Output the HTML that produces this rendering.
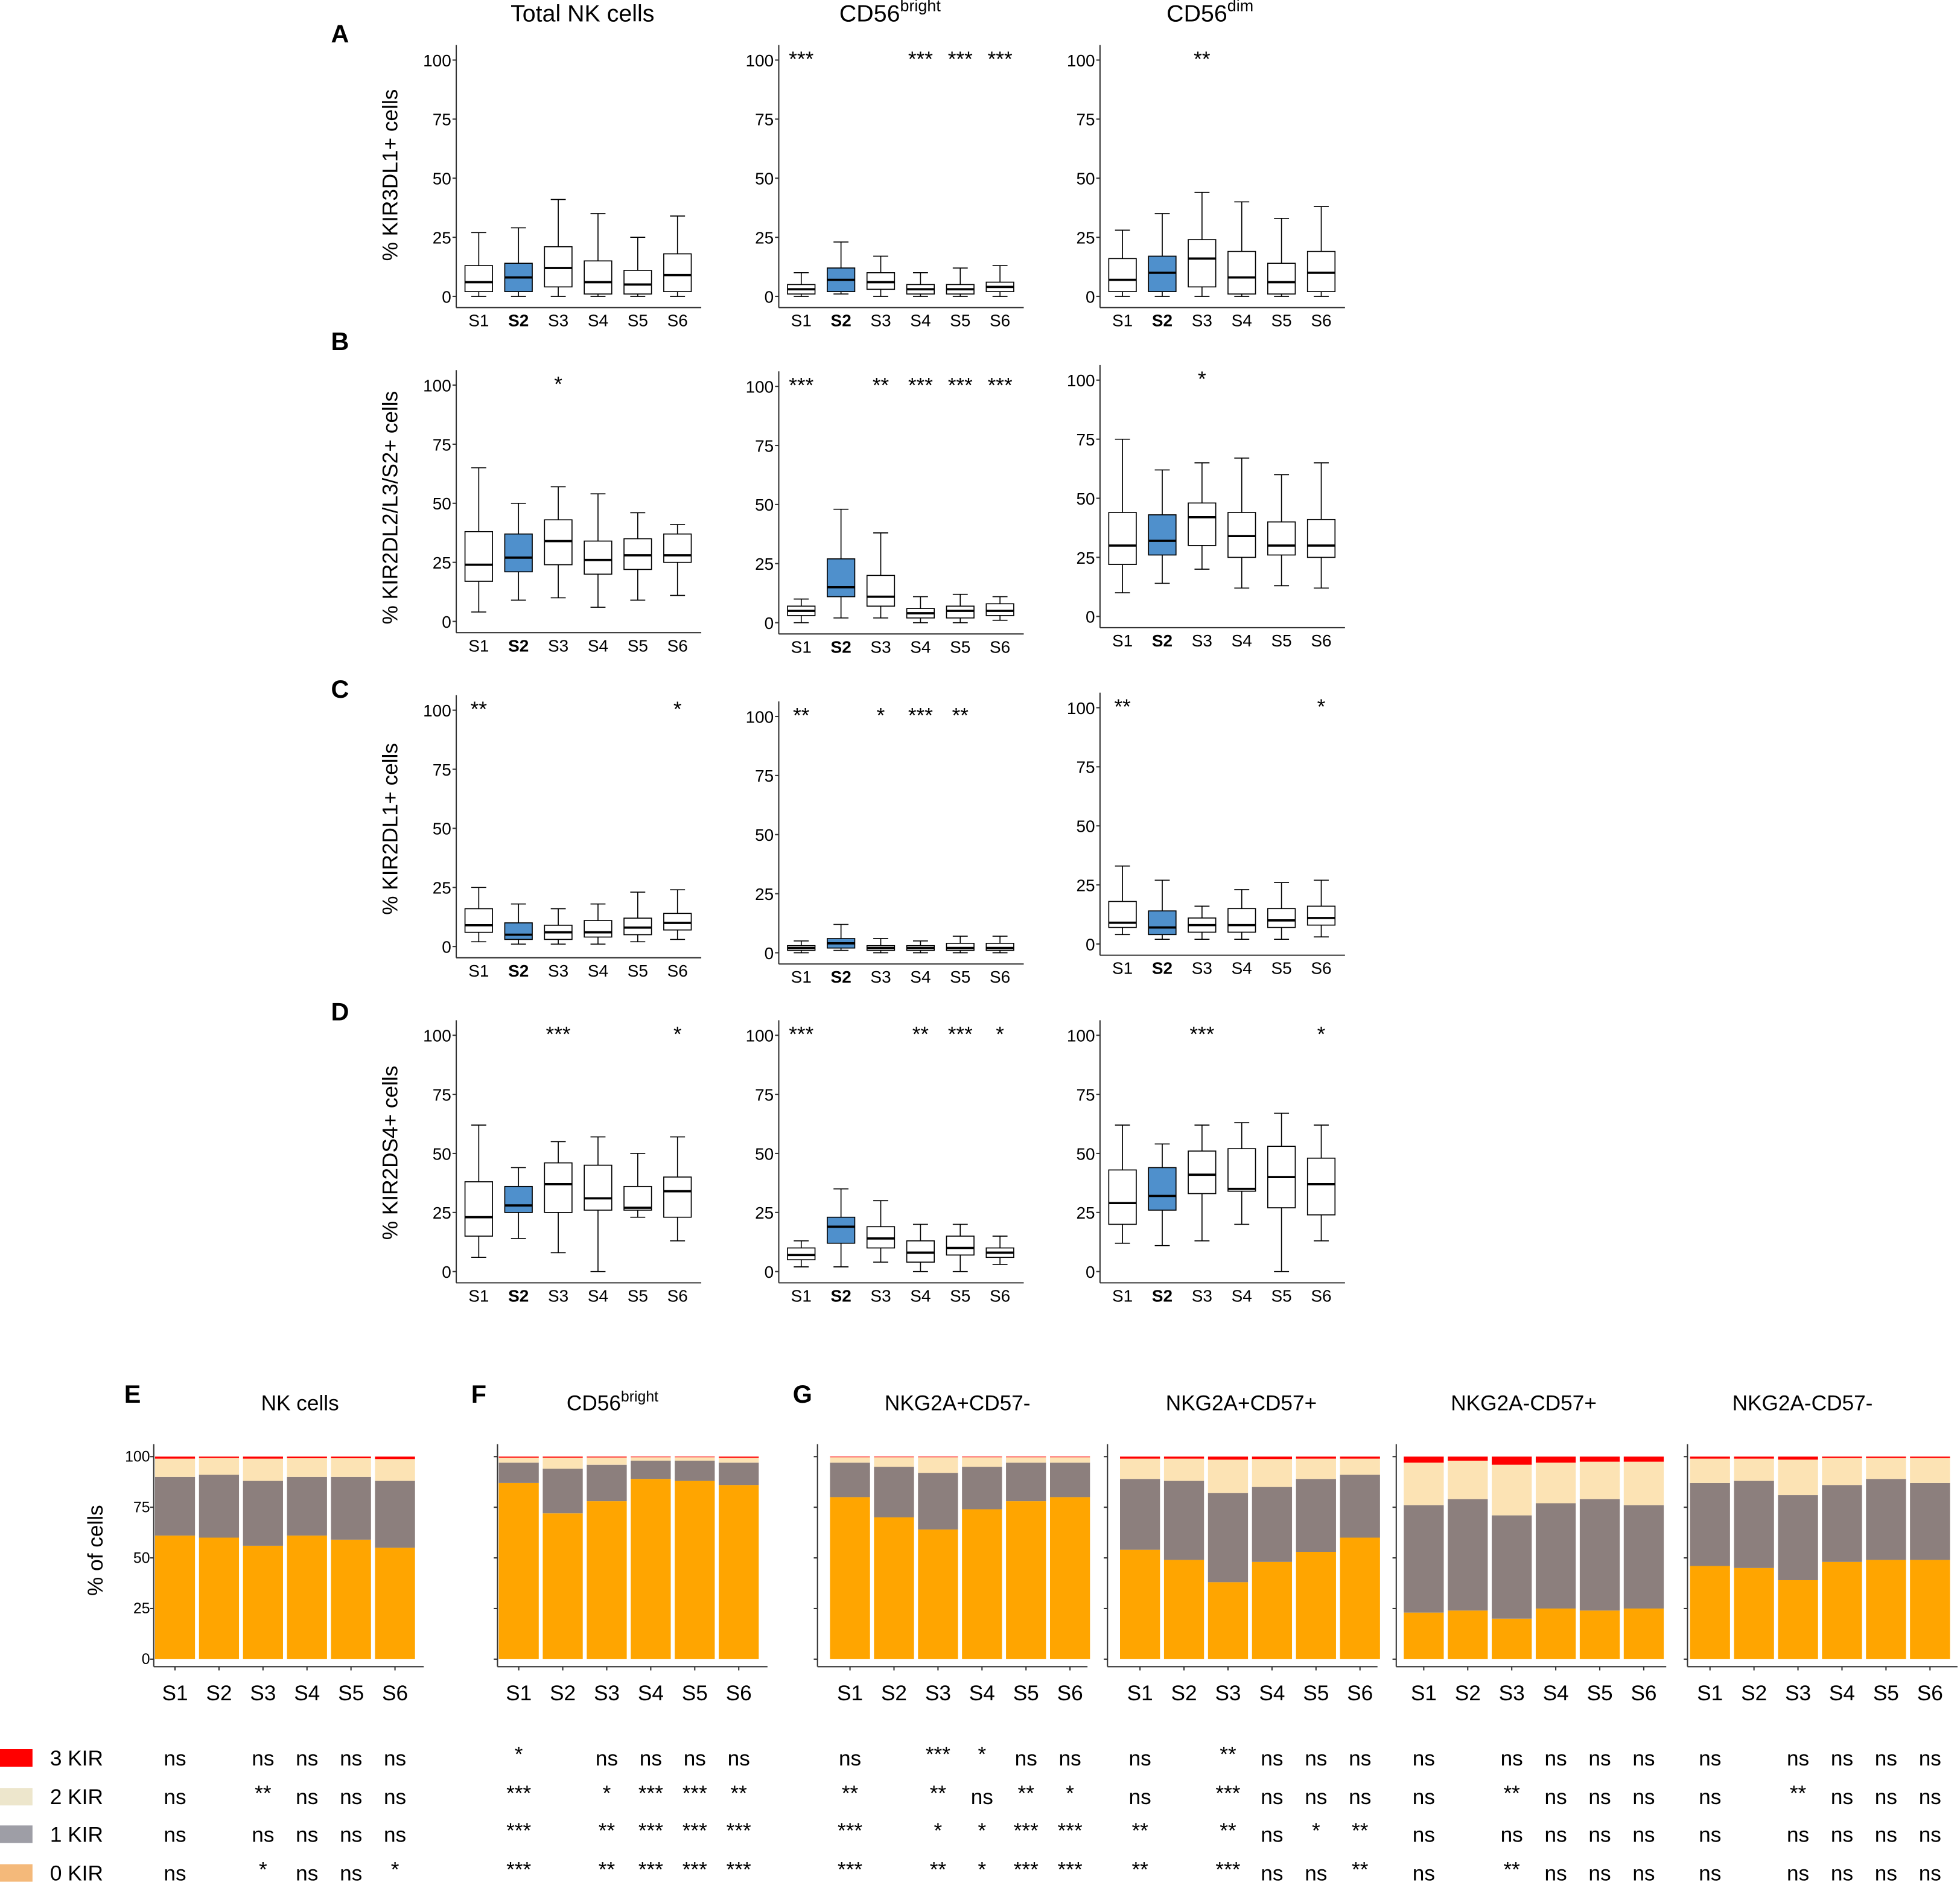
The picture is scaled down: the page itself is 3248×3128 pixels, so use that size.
<!DOCTYPE html>
<html><head><meta charset="utf-8">
<style>
html,body{margin:0;padding:0;background:#fff;}
svg{display:block;font-family:"Liberation Sans",sans-serif;}
</style></head>
<body>
<svg id="fig" xmlns="http://www.w3.org/2000/svg" width="3248" height="3128" viewBox="0 0 1568 1510"></svg>
<script>
// ---------- Box plot data: [min, q1, median, q3, max] ----------
const categories = ["S1","S2","S3","S4","S5","S6"];
const boxA1 = [[0,2,6,13,27],[0,2,8,14,29],[0,4,12,21,41],[0,1,6,15,35],[0,1,5,11,25],[0,2,9,18,34]];
const boxA2 = [[0,1,3,5,10],[1,2,7,12,23],[0,3,6,10,17],[0,1,3,5,10],[0,1,3,5,12],[0,2,4,6,13]];
const boxA3 = [[0,2,7,16,28],[0,2,10,17,35],[0,4,16,24,44],[0,1,8,19,40],[0,1,6,14,33],[0,2,10,19,38]];
const boxB1 = [[4,17,24,38,65],[9,21,27,37,50],[10,24,34,43,57],[6,20,26,34,54],[9,22,28,35,46],[11,25,28,37,41]];
const boxB2 = [[0,3,5,7,10],[2,11,15,27,48],[2,7,11,20,38],[0,2,4,6,11],[0,2,5,7,12],[1,3,5,8,11]];
const boxB3 = [[10,22,30,44,75],[14,26,32,43,62],[20,30,42,48,65],[12,25,34,44,67],[13,26,30,40,60],[12,25,30,41,65]];
const boxC1 = [[2,6,9,16,25],[1,3,5,10,18],[1,3,6,9,16],[1,4,6,11,18],[2,5,8,12,23],[3,7,10,14,24]];
const boxC2 = [[0,1,2,3,5],[1,2,4,6,12],[0,1,2,3,6],[0,1,2,3,5],[0,1,2,4,7],[0,1,2,4,7]];
const boxC3 = [[4,7,9,18,33],[2,4,7,14,27],[2,5,8,11,16],[2,5,8,15,23],[2,7,10,15,26],[3,8,11,16,27]];
const boxD1 = [[6,15,23,38,62],[14,25,28,36,44],[8,25,37,46,55],[0,26,31,45,57],[23,26,27,36,50],[13,23,34,40,57]];
const boxD2 = [[2,5,7,10,13],[2,12,19,23,35],[4,10,14,19,30],[0,4,8,13,20],[0,7,10,15,20],[3,6,8,10,15]];
const boxD3 = [[12,20,29,43,62],[11,26,32,44,54],[13,33,41,51,62],[20,34,35,52,63],[0,27,40,53,67],[13,24,37,48,62]];
const sigA1 = ["","","","","",""], sigA2 = ["***","","","***","***","***"], sigA3 = ["","","**","","",""];
const sigB1 = ["","","*","","",""], sigB2 = ["***","","**","***","***","***"], sigB3 = ["","","*","","",""];
const sigC1 = ["**","","","","","*"], sigC2 = ["**","","*","***","**",""], sigC3 = ["**","","","","","*"];
const sigD1 = ["","","***","","","*"], sigD2 = ["***","","","**","***","*"], sigD3 = ["","","***","","","*"];
const yTicks = [0,25,50,75,100];

// ---------- Stacked bar data (% of cells) ----------
const zeroE=[61,60,56,61,59,55], oneE=[29,31,32,29,31,33], threeE=[1,0.7,1,0.8,0.8,1.2];
const zeroF=[87,72,78,89,88,86], oneF=[10,22,18,9,10,11], threeF=[0.5,0.5,0.4,0.3,0.3,0.6];
const zeroG1=[80,70,64,74,78,80], oneG1=[17,25,28,21,19,17], threeG1=[0.3,0.3,0.3,0.3,0.3,0.3];
const zeroG2=[54,49,38,48,53,60], oneG2=[35,39,44,37,36,31], threeG2=[1,1,1.5,1.2,1,1];
const zeroG3=[23,24,20,25,24,25], oneG3=[53,55,51,52,55,51], threeG3=[3,2,4,3,2.5,2.5];
const zeroG4=[46,45,39,48,49,49], oneG4=[41,43,42,38,40,38], threeG4=[1,1,1.5,0.7,0.7,0.7];
const sigE=[["ns","","ns","ns","ns","ns"],["ns","","**","ns","ns","ns"],["ns","","ns","ns","ns","ns"],["ns","","*","ns","ns","*"]];
const sigF=[["*","","ns","ns","ns","ns"],["***","","*","***","***","**"],["***","","**","***","***","***"],["***","","**","***","***","***"]];
const sigG1=[["ns","","***","*","ns","ns"],["**","","**","ns","**","*"],["***","","*","*","***","***"],["***","","**","*","***","***"]];
const sigG2=[["ns","","**","ns","ns","ns"],["ns","","***","ns","ns","ns"],["**","","**","ns","*","**"],["**","","***","ns","ns","**"]];
const sigG3=[["ns","","ns","ns","ns","ns"],["ns","","**","ns","ns","ns"],["ns","","ns","ns","ns","ns"],["ns","","**","ns","ns","ns"]];
const sigG4=[["ns","","ns","ns","ns","ns"],["ns","","**","ns","ns","ns"],["ns","","ns","ns","ns","ns"],["ns","","ns","ns","ns","ns"]];
const legendLabels=["3 KIR","2 KIR","1 KIR","0 KIR"];

const NS="http://www.w3.org/2000/svg";
const svg=document.getElementById("fig");
function mk(tag,attrs,parent){const e=document.createElementNS(NS,tag);for(const k in attrs)e.setAttribute(k,attrs[k]);(parent||svg).appendChild(e);return e;}
function txt(s,x,y,size,anchor,parent,extra){const t=mk("text",Object.assign({x:x,y:y,"font-size":size,"text-anchor":anchor||"middle",fill:"#000"},extra||{}),parent);t.textContent=s;return t;}

// ---------- Box panels ----------
const colX=[365,623,880];
const colOff=[18,18,19];
function boxPanel(data,sig,ax,y0,name){
  const g=mk("g",{});
  
  
  const k=1.89;
  const ys=v=>y0-v*k;
  const xs=i=>ax+colOff[0]+i*31.8;
  mk("line",{x1:ax,y1:ys(100)-12,x2:ax,y2:y0+9,stroke:"#333","stroke-width":1},g);
  mk("line",{x1:ax,y1:y0+9,x2:ax+196,y2:y0+9,stroke:"#333","stroke-width":1},g);
  yTicks.forEach(t=>{mk("line",{x1:ax-3,y1:ys(t),x2:ax,y2:ys(t),stroke:"#333"},g);txt(String(t),ax-4,ys(t)+5,13.5,"end",g);});
  data.forEach((d,i)=>{
    const x=xs(i),w=22;
    const b=mk("g",{},g);
    
    
    mk("line",{x1:x,y1:ys(d[0]),x2:x,y2:ys(d[4]),stroke:"#000","stroke-width":0.8},b);
    mk("line",{x1:x-6,y1:ys(d[0]),x2:x+6,y2:ys(d[0]),stroke:"#000","stroke-width":0.8},b);
    mk("line",{x1:x-6,y1:ys(d[4]),x2:x+6,y2:ys(d[4]),stroke:"#000","stroke-width":0.8},b);
    mk("rect",{x:x-w/2,y:ys(d[3]),width:w,height:Math.max(ys(d[1])-ys(d[3]),0.5),fill:i===1?"#4f90cc":"#fff",stroke:"#000","stroke-width":0.8},b);
    mk("line",{x1:x-w/2,y1:ys(d[2]),x2:x+w/2,y2:ys(d[2]),stroke:"#000","stroke-width":1.8},b);
    txt(categories[i],x,y0+24,13.5,"middle",g,i===1?{"font-weight":"bold"}:{});
    if(sig[i])txt(sig[i],x,ys(100)+5,17,"middle",g);
  });
}
const rows=[
 {y:[237,237,237],d:[boxA1,boxA2,boxA3],s:[sigA1,sigA2,sigA3],n:"a"},
 {y:[497,498,493],d:[boxB1,boxB2,boxB3],s:[sigB1,sigB2,sigB3],n:"b"},
 {y:[757,762,755],d:[boxC1,boxC2,boxC3],s:[sigC1,sigC2,sigC3],n:"c"},
 {y:[1017,1017,1017],d:[boxD1,boxD2,boxD3],s:[sigD1,sigD2,sigD3],n:"d"}];
rows.forEach(r=>{for(let c=0;c<3;c++)boxPanel(r.d[c],r.s[c],colX[c],r.y[c],"boxplot-"+r.n+"-col"+(c+1));});

// titles and labels
let t;
t=txt("Total NK cells",466,17,19);
t=mk("text",{x:712,y:17,"font-size":19,"text-anchor":"middle"});t.innerHTML='CD56<tspan font-size="13" dy="-8">bright</tspan>';

t=mk("text",{x:968,y:17,"font-size":19,"text-anchor":"middle"});t.innerHTML='CD56<tspan font-size="13" dy="-8">dim</tspan>';

[["A",27],["B",273],["C",551],["D",809]].forEach(([l,y])=>{t=txt(l,272,y+7,20,"middle",svg,{"font-weight":"bold"});});
[["% KIR3DL1+ cells",140],["% KIR2DL2/L3/S2+ cells",406],["% KIR2DL1+ cells",663],["% KIR2DS4+ cells",922]].forEach(([s,y],i)=>{
  t=txt(s,318,y,17,"middle",svg,{transform:"rotate(-90 318 "+y+")"});});

// ---------- Stacked bars ----------
const colors=["#ffa500","#8c7f7d","#fce3b4","#ff0000"];
const sy0=1327,sk=1.62;
function stackPanel(zero,one,three,sig,ax,firstX,title,titleX,name,showY){
  const g=mk("g",{});
  
  
  const ys=v=>sy0-v*sk;
  mk("line",{x1:ax,y1:1155,x2:ax,y2:1333,stroke:"#333"},g);
  mk("line",{x1:ax,y1:1333,x2:ax+216,y2:1333,stroke:"#333"},g);
  yTicks.forEach(v=>{mk("line",{x1:ax-3,y1:ys(v),x2:ax,y2:ys(v),stroke:"#333"},g);if(showY)txt(String(v),ax-3,ys(v)+4,12,"end",g);});
  if(title.sup){t=mk("text",{x:titleX,y:1128,"font-size":17,"text-anchor":"middle"},g);t.innerHTML=title.t+'<tspan font-size="12" dy="-7">'+title.sup+'</tspan>';}
  else txt(title.t,titleX,1128,17,"middle",g);
  for(let i=0;i<6;i++){
    const x=firstX+i*35.2,w=32;
    const two=100-zero[i]-one[i]-three[i];
    const segs=[zero[i],one[i],two,three[i]];
    let base=0;
    segs.forEach((v,j)=>{
      const r=mk("rect",{x:x-w/2,y:ys(base+v),width:w,height:v*sk,fill:colors[j]},g);
      
      
      base+=v;
    });
    mk("line",{x1:x,y1:1333,x2:x,y2:1336,stroke:"#333"},g);
    txt(categories[i],x,1360,17,"middle",g);
    sig.forEach((row,r)=>{const s=row[i];if(!s)return;const y=[1412,1443,1473,1504][r];
      if(s==="ns")txt(s,x,y,17,"middle",g);else txt(s,x,y-3,17,"middle",g);});
  }
}
stackPanel(zeroE,oneE,threeE,sigE,123,140,{t:"NK cells"},240,"stacked-nk-cells",true);
stackPanel(zeroF,oneF,threeF,sigF,398,415,{t:"CD56",sup:"bright"},490,"stacked-cd56bright",false);
stackPanel(zeroG1,oneG1,threeG1,sigG1,654,680,{t:"NKG2A+CD57-"},766,"stacked-nkg2a-pos-cd57-neg",false);
stackPanel(zeroG2,oneG2,threeG2,sigG2,886,912,{t:"NKG2A+CD57+"},993,"stacked-nkg2a-pos-cd57-pos",false);
stackPanel(zeroG3,oneG3,threeG3,sigG3,1117,1139,{t:"NKG2A-CD57+"},1219,"stacked-nkg2a-neg-cd57-pos",false);
stackPanel(zeroG4,oneG4,threeG4,sigG4,1350,1368,{t:"NKG2A-CD57-"},1442,"stacked-nkg2a-neg-cd57-neg",false);
[["E",106],["F",383],["G",642]].forEach(([l,x])=>{t=txt(l,x,1122,20,"middle",svg,{"font-weight":"bold"});});
t=txt("% of cells",82,1240,17,"middle",svg,{transform:"rotate(-90 82 1240)"});

// legend
const legColors=["#ff0000","#ede6cc","#9e9ea6","#f4b97a"];
legendLabels.forEach((s,i)=>{
  const y=[1406,1437,1467,1498][i];
  const g=mk("g",{});
  
  
  mk("rect",{x:0,y:y-7,width:26,height:14,fill:legColors[i]},g);
  txt(s,40,y+6,17,"start",g);
});
</script>
</body></html>
